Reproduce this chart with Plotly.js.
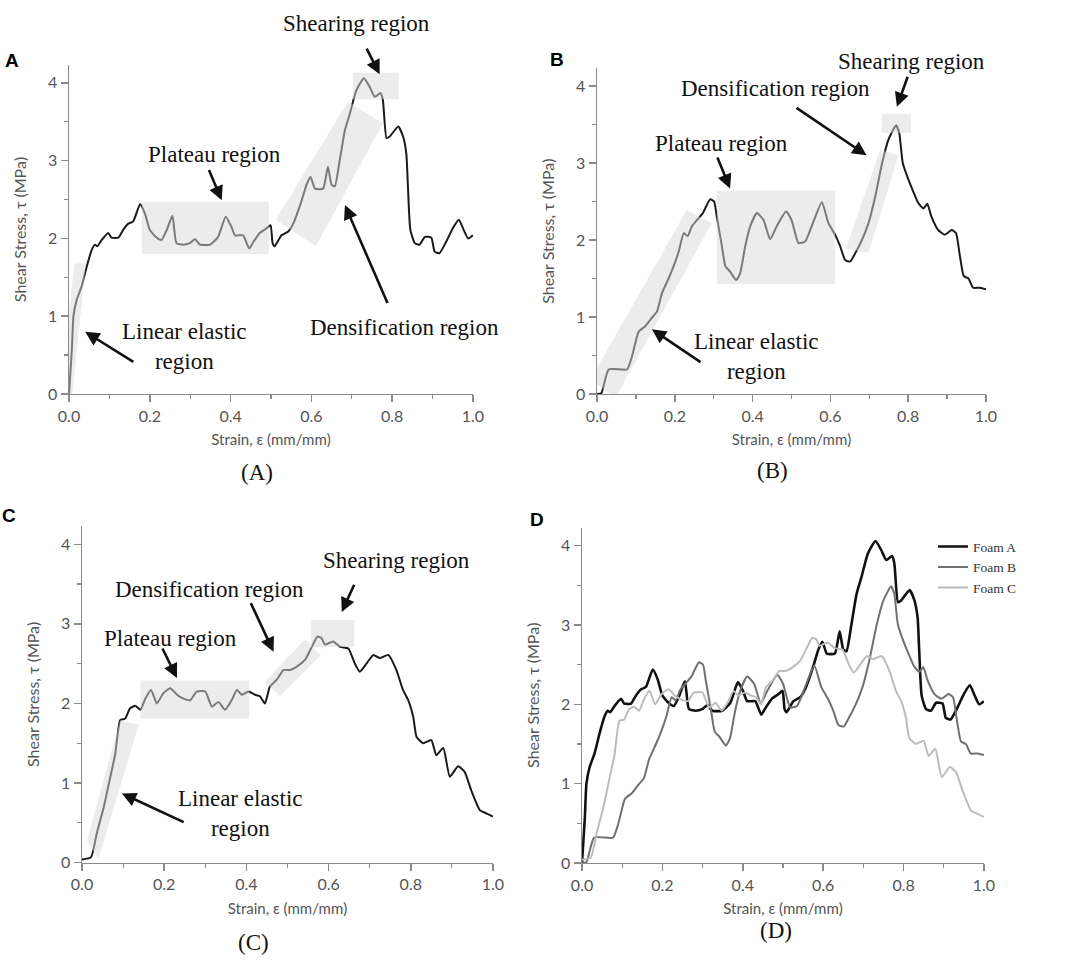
<!DOCTYPE html>
<html>
<head>
<meta charset="utf-8">
<script src="https://cdn.plot.ly/plotly-3.0.1.min.js"></script>
<style>html,body{margin:0;padding:0;background:#fff}#chart{width:1065px;height:964px}</style>
</head>
<body>
<div id="chart"></div>
<script>
// ---- data (strain, shear stress) ----
const foamA_x = [0,0.007,0.011,0.019,0.031,0.044,0.056,0.064,0.07,0.081,0.097,0.105,0.122,0.134,0.147,0.159,0.176,0.188,0.2,0.217,0.229,0.242,0.256,0.266,0.283,0.299,0.312,0.324,0.349,0.369,0.388,0.402,0.411,0.431,0.446,0.456,0.472,0.489,0.499,0.504,0.509,0.526,0.543,0.555,0.576,0.588,0.598,0.609,0.629,0.641,0.65,0.658,0.67,0.683,0.695,0.711,0.73,0.744,0.757,0.771,0.777,0.786,0.794,0.815,0.827,0.835,0.839,0.845,0.856,0.868,0.881,0.897,0.905,0.917,0.934,0.95,0.965,0.977,0.988,1.0];
const foamA_y = [0,0.57,1.0,1.21,1.38,1.64,1.85,1.92,1.90,1.98,2.07,2.01,2.01,2.11,2.19,2.22,2.44,2.32,2.11,2.01,1.98,2.11,2.29,1.94,1.92,1.94,1.99,1.92,1.92,2.02,2.28,2.15,2.04,2.04,1.87,1.95,2.07,2.13,2.17,1.94,1.90,2.04,2.09,2.19,2.49,2.69,2.79,2.64,2.64,2.92,2.69,2.67,3.0,3.39,3.60,3.9,4.06,3.95,3.82,3.87,3.78,3.29,3.31,3.44,3.31,3.09,2.67,2.11,1.94,1.92,2.02,2.01,1.83,1.81,1.96,2.13,2.24,2.11,2.0,2.04];

const foamB_x = [0,0.011,0.03,0.077,0.09,0.107,0.124,0.141,0.154,0.167,0.184,0.197,0.21,0.223,0.233,0.244,0.257,0.272,0.291,0.301,0.308,0.321,0.33,0.342,0.358,0.368,0.381,0.394,0.411,0.428,0.445,0.462,0.486,0.5,0.518,0.535,0.555,0.578,0.595,0.612,0.625,0.638,0.651,0.664,0.681,0.698,0.715,0.733,0.749,0.769,0.777,0.786,0.798,0.813,0.826,0.839,0.849,0.86,0.877,0.894,0.912,0.923,0.933,0.943,0.955,0.967,0.985,1.0];
const foamB_y = [0,0.01,0.32,0.32,0.49,0.81,0.88,0.99,1.07,1.31,1.50,1.66,1.85,2.09,2.05,2.18,2.26,2.35,2.53,2.50,2.30,1.92,1.66,1.59,1.48,1.57,1.92,2.18,2.35,2.26,2.01,2.18,2.37,2.26,1.96,1.98,2.22,2.49,2.22,2.07,1.92,1.74,1.72,1.83,2.0,2.22,2.56,3.0,3.30,3.49,3.39,3.0,2.82,2.63,2.48,2.41,2.47,2.30,2.13,2.07,2.13,2.09,1.79,1.53,1.50,1.38,1.38,1.36];

const foamC_x = [0,0.022,0.036,0.053,0.069,0.081,0.093,0.105,0.117,0.13,0.142,0.154,0.168,0.182,0.198,0.215,0.231,0.247,0.263,0.279,0.3,0.316,0.332,0.348,0.364,0.377,0.389,0.405,0.421,0.433,0.445,0.457,0.474,0.49,0.506,0.522,0.543,0.559,0.573,0.583,0.591,0.611,0.628,0.648,0.664,0.676,0.692,0.709,0.725,0.745,0.765,0.781,0.794,0.806,0.814,0.83,0.85,0.862,0.879,0.895,0.915,0.931,0.947,0.968,0.984,1.0];
const foamC_y = [0.04,0.07,0.37,0.70,1.08,1.37,1.79,1.81,1.94,1.97,1.92,2.06,2.17,2.0,2.13,2.19,2.11,2.06,2.04,2.15,2.15,1.96,2.02,1.92,2.04,2.17,2.11,2.15,2.11,2.09,2.0,2.21,2.30,2.42,2.42,2.46,2.55,2.71,2.84,2.82,2.74,2.78,2.71,2.69,2.50,2.40,2.50,2.61,2.57,2.61,2.42,2.17,2.04,1.83,1.58,1.50,1.54,1.35,1.44,1.08,1.21,1.14,0.91,0.66,0.62,0.58];

const seriesNames = ["Foam A", "Foam B", "Foam C"];
const panelLetters = ["A", "B", "C", "D"];
const panelCaptions = ["(A)", "(B)", "(C)", "(D)"];
const xTickVals = [0, 0.2, 0.4, 0.6, 0.8, 1.0];
const yTickVals = [0, 1, 2, 3, 4];
const xTitle = "Strain, ε (mm/mm)";
const yTitle = "Shear Stress, τ (MPa)";

// ---- subplot geometry ----
const Y_MAX = 4.23;
const dom = {
  x:  {x: [0.0648, 0.4441], y: [0.5913, 0.9326]},
  x2: {x: [0.5606, 0.9258], y: [0.5913, 0.9291]},
  x3: {x: [0.0770, 0.4629], y: [0.1051, 0.4544]},
  x4: {x: [0.5465, 0.9239], y: [0.1048, 0.4528]}
};

// ---- traces ----
const dark = "#1a1a1a";
const sm = {shape: "spline", smoothing: 0.5};
const traces = [
  {x: foamA_x, y: foamA_y, xaxis: "x", yaxis: "y", mode: "lines", line: Object.assign({color: dark, width: 2}, sm), showlegend: false, hoverinfo: "skip"},
  {x: foamB_x, y: foamB_y, xaxis: "x2", yaxis: "y2", mode: "lines", line: Object.assign({color: dark, width: 2}, sm), showlegend: false, hoverinfo: "skip"},
  {x: foamC_x, y: foamC_y, xaxis: "x3", yaxis: "y3", mode: "lines", line: Object.assign({color: dark, width: 2}, sm), showlegend: false, hoverinfo: "skip"},
  {x: foamA_x, y: foamA_y, xaxis: "x4", yaxis: "y4", mode: "lines", name: seriesNames[0], line: Object.assign({color: "#111111", width: 2.6}, sm)},
  {x: foamB_x, y: foamB_y, xaxis: "x4", yaxis: "y4", mode: "lines", name: seriesNames[1], line: Object.assign({color: "#707070", width: 2}, sm)},
  {x: foamC_x, y: foamC_y, xaxis: "x4", yaxis: "y4", mode: "lines", name: seriesNames[2], line: Object.assign({color: "#bcbcbc", width: 2}, sm)}
];

// ---- axes ----
const axCol = "#8a8a8a";
const tickFont = {family: "Lato, 'Open Sans', sans-serif", size: 16, color: "#555"};
function xa(domain, anchor) {
  return {domain: domain, anchor: anchor, range: [0, 1], tickvals: xTickVals, tickformat: ".1f",
    showline: true, linecolor: axCol, linewidth: 1.5, ticks: "outside", ticklen: 7, tickwidth: 1.5, tickcolor: axCol,
    minor: {dtick: 0.1, ticks: "outside", ticklen: 4, tickwidth: 1.2, tickcolor: axCol, showgrid: false},
    showgrid: false, zeroline: false, tickfont: tickFont, fixedrange: true,
    title: {text: xTitle, font: {family: "Lato, 'Open Sans', sans-serif", size: 15, color: "#555"}, standoff: 11}};
}
function ya(domain, anchor) {
  return {domain: domain, anchor: anchor, range: [0, Y_MAX], tickvals: yTickVals,
    showline: true, linecolor: axCol, linewidth: 1.5, ticks: "outside", ticklen: 7, tickwidth: 1.5, tickcolor: axCol,
    minor: {dtick: 0.5, ticks: "outside", ticklen: 4, tickwidth: 1.2, tickcolor: axCol, showgrid: false},
    showgrid: false, zeroline: false, tickfont: tickFont, fixedrange: true,
    title: {text: yTitle, font: {family: "Lato, 'Open Sans', sans-serif", size: 16, color: "#555"}, standoff: 17}};
}

// ---- highlighted regions (grey bands) ----
const band = {fillcolor: "#d9d9d9", opacity: 0.5, line: {width: 0}, layer: "above"};
function rect(xr, yr, x0, x1, y0, y1) {
  return Object.assign({type: "rect", xref: xr, yref: yr, x0: x0, x1: x1, y0: y0, y1: y1}, band);
}
function poly(xr, yr, pts) {
  const p = "M " + pts.map(q => q[0] + "," + q[1]).join(" L ") + " Z";
  return Object.assign({type: "path", xref: xr, yref: yr, path: p}, band);
}
const shapes = [
  // A
  poly("x", "y", [[-0.02, 0], [0.008, 0], [0.042, 1.68], [0.013, 1.68]]),
  rect("x", "y", 0.18, 0.495, 1.80, 2.47),
  poly("x", "y", [[0.512, 2.24], [0.611, 1.90], [0.777, 3.48], [0.691, 3.76]]),
  rect("x", "y", 0.703, 0.816, 3.79, 4.13),
  // B
  poly("x2", "y2", [[-0.017, 0.19], [0.047, -0.05], [0.295, 2.22], [0.231, 2.39]]),
  rect("x2", "y2", 0.308, 0.612, 1.43, 2.64),
  poly("x2", "y2", [[0.64, 1.89], [0.698, 1.83], [0.775, 3.10], [0.728, 3.17]]),
  rect("x2", "y2", 0.732, 0.807, 3.39, 3.64),
  // C
  poly("x3", "y3", [[0.012, 0.28], [0.04, 0.05], [0.138, 1.73], [0.093, 1.79]]),
  rect("x3", "y3", 0.142, 0.407, 1.81, 2.29),
  poly("x3", "y3", [[0.445, 2.27], [0.482, 2.09], [0.581, 2.61], [0.543, 2.81]]),
  rect("x3", "y3", 0.557, 0.662, 2.71, 3.05)
];

// ---- annotations ----
const serif = {family: "'Liberation Serif', 'Times New Roman', serif", size: 23, color: "#111"};
// labels are placed in paper space (converted from the panel's data space) so they can sit above the axis range
function label(xr, x, y, text) {
  const d = dom[xr];
  return {xref: "paper", yref: "paper", x: d.x[0] + x * (d.x[1] - d.x[0]), y: d.y[0] + (y / Y_MAX) * (d.y[1] - d.y[0]),
    text: text, showarrow: false, font: serif, align: "center", xanchor: "center", yanchor: "middle"};
}
function arrow(xr, yr, tx, ty, hx, hy) {
  return {xref: xr, yref: yr, axref: xr, ayref: yr, x: hx, y: hy, ax: tx, ay: ty, text: "", showarrow: true,
    arrowhead: 2, arrowsize: 1.1, arrowwidth: 2.6, arrowcolor: "#111", standoff: 0, startstandoff: 0};
}
const annotations = [
  // A
  label("x", 0.711, 4.76, "Shearing region"), arrow("x", "y", 0.735, 4.46, 0.769, 4.11),
  label("x", 0.361, 3.08, "Plateau region"), arrow("x", "y", 0.345, 2.90, 0.378, 2.49),
  label("x", 0.83, 0.85, "Densification region"), arrow("x", "y", 0.79, 1.15, 0.683, 2.43),
  label("x", 0.287, 0.61, "Linear elastic<br>region"), arrow("x", "y", 0.163, 0.40, 0.04, 0.80),
  // B
  label("x2", 0.809, 4.32, "Shearing region"), arrow("x2", "y2", 0.80, 4.14, 0.771, 3.73),
  label("x2", 0.458, 3.97, "Densification region"), arrow("x2", "y2", 0.509, 3.73, 0.693, 3.10),
  label("x2", 0.321, 3.26, "Plateau region"), arrow("x2", "y2", 0.308, 3.09, 0.342, 2.67),
  label("x2", 0.411, 0.49, "Linear elastic<br>region"), arrow("x2", "y2", 0.27, 0.40, 0.141, 0.84),
  // C
  label("x3", 0.765, 3.79, "Shearing region"), arrow("x3", "y3", 0.664, 3.51, 0.632, 3.15),
  label("x3", 0.31, 3.43, "Densification region"), arrow("x3", "y3", 0.409, 3.28, 0.466, 2.65),
  label("x3", 0.215, 2.81, "Plateau region"), arrow("x3", "y3", 0.194, 2.71, 0.231, 2.32),
  label("x3", 0.386, 0.62, "Linear elastic<br>region"), arrow("x3", "y3", 0.251, 0.50, 0.097, 0.87)
];
// panel letters and captions
const letterPos = [[12, 60], [557, 59], [9, 515], [537, 519]];
const captionPos = [[257, 472], [772, 470], [253, 942], [776, 930]];
panelLetters.forEach((t, i) => {
  annotations.push({xref: "paper", yref: "paper", x: letterPos[i][0] / 1065, y: 1 - letterPos[i][1] / 964, text: "<b>" + t + "</b>",
    showarrow: false, xanchor: "center", yanchor: "middle", font: {family: "'Liberation Sans', Arial, sans-serif", size: 19, color: "#000"}});
});
panelCaptions.forEach((t, i) => {
  annotations.push({xref: "paper", yref: "paper", x: captionPos[i][0] / 1065, y: 1 - captionPos[i][1] / 964, text: t,
    showarrow: false, xanchor: "center", yanchor: "middle", font: {family: "'Liberation Serif', 'Times New Roman', serif", size: 23, color: "#111"}});
});

const layout = {
  width: 1065, height: 964, margin: {l: 0, r: 0, t: 0, b: 0},
  paper_bgcolor: "#fff", plot_bgcolor: "rgba(0,0,0,0)",
  xaxis: xa(dom.x.x, "y"), yaxis: ya(dom.x.y, "x"),
  xaxis2: xa(dom.x2.x, "y2"), yaxis2: ya(dom.x2.y, "x2"),
  xaxis3: xa(dom.x3.x, "y3"), yaxis3: ya(dom.x3.y, "x3"),
  xaxis4: xa(dom.x4.x, "y4"), yaxis4: ya(dom.x4.y, "x4"),
  showlegend: true,
  legend: {x: 0.876, y: 0.449, xanchor: "left", yanchor: "top", bgcolor: "rgba(0,0,0,0)", borderwidth: 0,
    font: {family: "'Liberation Serif', 'Times New Roman', serif", size: 13.5, color: "#333"}, tracegroupgap: 0, itemwidth: 30},
  shapes: shapes, annotations: annotations
};

Plotly.newPlot("chart", traces, layout, {staticPlot: true, displayModeBar: false});
</script>
</body>
</html>
